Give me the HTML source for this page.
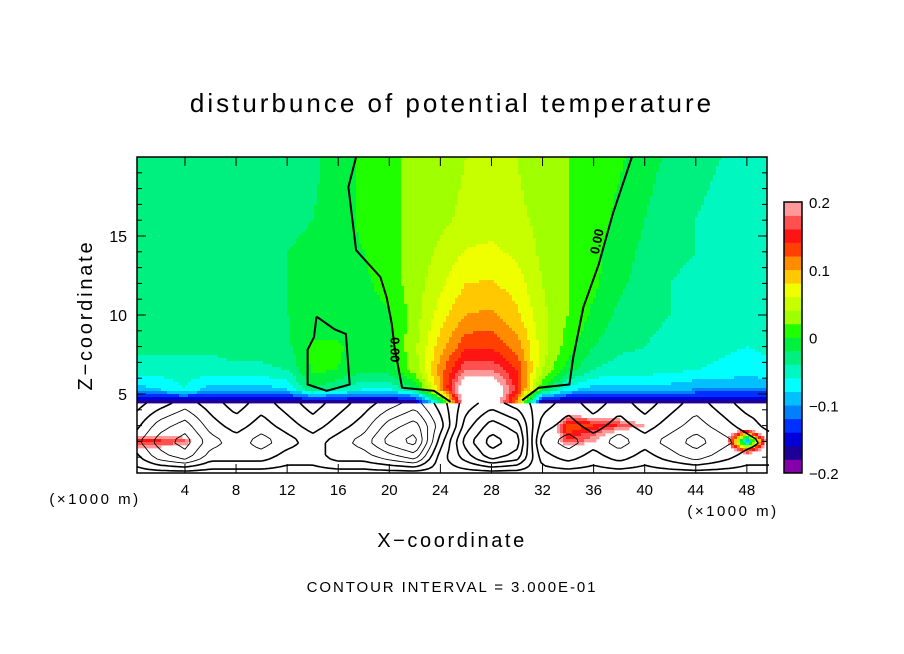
<!DOCTYPE html>
<html><head><meta charset="utf-8"><style>
body{margin:0;background:#fff;width:904px;height:654px;overflow:hidden;font-family:"Liberation Sans","DejaVu Sans",sans-serif}
svg{position:absolute;left:0;top:0}
</style></head><body>
<svg id="chart" width="904" height="654">
<text x="452" y="112" text-anchor="middle" font-size="26" letter-spacing="3">disturbunce of potential temperature</text>
<g id="field"></g>
<g id="contours"></g>
<rect x="137" y="157" width="630" height="316" fill="none" stroke="#000" stroke-width="1.5"/>
<g id="axes"></g>
<g id="cbar"></g>
<text x="95" y="504" text-anchor="middle" font-size="15" letter-spacing="2.5">(×1000 m)</text>
<text x="733" y="516" text-anchor="middle" font-size="15" letter-spacing="2.5">(×1000 m)</text>
<text x="452" y="547" text-anchor="middle" font-size="20" letter-spacing="2.6">X−coordinate</text>
<text transform="translate(92,315) rotate(-90)" text-anchor="middle" font-size="20" letter-spacing="2.8">Z−coordinate</text>
<text x="452" y="592" text-anchor="middle" font-size="15" letter-spacing="1.9">CONTOUR INTERVAL = 3.000E-01</text>
</svg>
<script>
const xCols=[0,2,4,6,8,10,12,14,16,18,20,22,24,26,28,30,32,34,36,38,40,42,44,46,48,50];
const zRows=[4.4,5.3,6.5,8,10,12,14,16,20];
const r0=[-.19,-.19,-.19,-.19,-.19,-.19,-.19,-.19,-.19,-.19,-.19,-.19,-.05,.25,.25,.1,-.19,-.19,-.19,-.19,-.19,-.19,-.19,-.19,-.19,-.19];
const r1=[-.09,-.08,-.06,-.09,-.09,-.09,-.08,-.02,-.04,-.06,-.06,-.02,.1,.25,.25,.15,0,-.07,-.09,-.09,-.09,-.09,-.1,-.1,-.1,-.1];
const r2=[-.05,-.05,-.05,-.05,-.045,-.045,-.04,.005,0,-.015,-.01,.03,.11,.18,.18,.14,.04,-.01,-.04,-.05,-.05,-.055,-.06,-.065,-.07,-.065];
const r3=[-.035,-.035,-.035,-.035,-.03,-.03,-.025,.005,.003,-.01,-.003,.035,.09,.135,.135,.11,.05,.01,-.02,-.035,-.04,-.045,-.05,-.055,-.06,-.055];
const r4=[-.03,-.03,-.03,-.03,-.03,-.025,-.02,-.015,-.015,-.01,-.002,.03,.07,.1,.105,.085,.045,.02,-.005,-.025,-.035,-.04,-.045,-.05,-.05,-.05];
const r5=[-.03,-.03,-.03,-.03,-.03,-.025,-.02,-.015,-.01,-.005,.01,.03,.055,.08,.082,.07,.04,.02,.005,-.015,-.03,-.04,-.045,-.045,-.05,-.05];
const r6=[-.03,-.03,-.03,-.03,-.03,-.025,-.02,-.015,-.01,0,.015,.025,.045,.062,.065,.055,.035,.02,.005,-.01,-.025,-.035,-.04,-.045,-.045,-.045];
const r7=[-.03,-.03,-.03,-.03,-.03,-.03,-.025,-.02,-.01,.005,.015,.025,.035,.045,.05,.045,.035,.02,.01,-.005,-.02,-.035,-.04,-.045,-.045,-.045];
const r8=[-.03,-.03,-.03,-.03,-.03,-.03,-.03,-.025,-.01,.005,.015,.025,.03,.04,.045,.04,.025,.02,.01,.003,-.01,-.025,-.035,-.04,-.045,-.045];
const upperGrid=[r0,r1,r2,r3,r4,r5,r6,r7,r8];
const zLow=[0,1,2,3,4.4];
const l0=[.3,.3,.3,.3,.3,.3,.3,.3,.3,.3,.3,.3,.3,.3,.3,.3,.3,.3,.3,.3,.3,.3,.3,.3,.3,.3];
const l1=[.3,.3,.3,.3,.3,.3,.3,.3,.3,.3,.3,.3,.3,.3,.3,.3,.3,.3,.3,.3,.3,.3,.3,.3,.3,.3];
const l2=[.14,.15,.17,.3,.3,.3,.3,.3,.3,.3,.3,.3,.3,.3,.3,.3,.3,.16,.2,.3,.3,.3,.3,.3,-.12,.3];
const l3=[.3,.3,.3,.3,.3,.3,.3,.3,.3,.3,.3,.3,.3,.3,.3,.3,.3,.12,.14,.16,.2,.3,.3,.3,.3,.3];
const l4=[.3,.3,.3,.3,.3,.3,.3,.3,.3,.3,.3,.3,.3,.3,.3,.3,.3,.3,.3,.3,.3,.3,.3,.3,.3,.3];
const lowerGrid=[l0,l1,l2,l3,l4];
const p0=[0,0,0,0,0,0,0,0,0,0,0,0,0,0,0,0,0,0,0,0,0,0,0,0,0,0];
const p1=[.3,.9,1.2,.6,.6,.6,.3,.3,.6,.6,.9,1.2,0,-.6,-1.2,-.9,.3,.6,.3,.6,.3,.6,.9,.6,.3,.3];
const p2=[.6,1.2,1.5,.9,.6,.9,.6,.3,.6,.9,1.5,1.8,.3,-.9,-1.5,-1.2,.6,.9,.6,.9,.6,.9,1.2,.9,.6,.3];
const p3=[.3,.9,1.2,.6,.3,.6,.3,0,.3,.6,1.2,1.5,.6,-.6,-1.2,-.9,.3,.6,.3,.6,.3,.6,.9,.6,.3,0];
const p4=[0,.3,.6,.3,0,.3,0,-.3,0,.3,.6,.9,.3,-.3,-.6,-.3,0,.3,0,.3,0,.3,.6,.3,0,0];
const psiGrid=[p0,p1,p2,p3,p4];
const psiLevels=[-1.35,-1.05,-0.75,-0.45,-0.15,0.15,0.45,0.75,1.05,1.35,1.65];
const cbTicks=[-0.2,-0.1,0,0.1,0.2];
const cbLabels=["−0.2","−0.1","0","0.1","0.2"];
const xTicks=[4,8,12,16,20,24,28,32,36,40,44,48];
const zTicks=[5,10,15];
const zeroLeftZ=[20,18.1,14.1,12.4,11.1,9.4,8,5.4,5.2,4.5];
const zeroLeftX=[17.4,16.8,17.4,19.3,19.8,20.2,20.4,21,23.5,24.8];
const zeroRightZ=[20,16.4,13.2,10.5,7.3,5.6,5.4,4.6];
const zeroRightX=[39,37.5,36.4,35.2,34.4,34.1,31.7,30.4];
const blobZ=[9.9,9.1,8.8,5.6,5.2,5.6,7.8,8.6,9.9];
const blobX=[14.3,15.7,16.6,16.9,15.1,13.6,13.6,14.1,14.3];
const palette=["#8400a8","#1e0096","#0000d8","#0030ff","#0080ff","#00c0ff","#00ffff","#00f8c0","#00f080","#00f040","#20ff00","#a0ff00","#c8ff00","#f0ff00","#ffc800","#ff8c00","#ff4000","#ff1414","#ff5050","#ff9898"];
const X0=137,X1=767,Y0=473,Y1=157;
const sx=v=>133.9+v*12.77;
const sz=z=>473-z*15.8;
const ns="http://www.w3.org/2000/svg";
function mk(t,a,p){const e=document.createElementNS(ns,t);for(const k in a)e.setAttribute(k,a[k]);p.appendChild(e);return e;}
function color(v){if(v>=0.2)return "#ffffff";let i=Math.floor((v+0.2)/0.02);if(i<0)i=0;if(i>19)i=19;return palette[i];}
function sample(grid,zs,x,z){
  let ci=0;while(ci<xCols.length-2&&x>xCols[ci+1])ci++;
  let ri=0;while(ri<zs.length-2&&z>zs[ri+1])ri++;
  let tx=(x-xCols[ci])/(xCols[ci+1]-xCols[ci]);tx=Math.max(0,Math.min(1,tx));
  let tz=(z-zs[ri])/(zs[ri+1]-zs[ri]);tz=Math.max(0,Math.min(1,tz));
  const a=grid[ri][ci],b=grid[ri][ci+1],c=grid[ri+1][ci],d=grid[ri+1][ci+1];
  return (a*(1-tx)+b*tx)*(1-tz)+(c*(1-tx)+d*tx)*tz;
}
const field=document.getElementById('field');
const step=3;
for(let py=Y1;py<Y0;py+=step){
  const z=(473-(py+step/2))/15.8;
  for(let px=X0;px<X1;px+=step){
    const x=(px+step/2-133.9)/12.77;
    const v=z>=4.4?sample(upperGrid,zRows,x,z):sample(lowerGrid,zLow,x,z);
    const c=color(v);
    if(c==="#ffffff")continue;
    const r=mk('rect',{x:px,y:py,width:step+0.4,height:step+0.4,fill:c},field);
    
    
  }
}
const cont=document.getElementById('contours');
function poly(xs,zs,name){
  const d=xs.map((x,i)=>(i?'L':'M')+sx(x).toFixed(1)+' '+sz(zs[i]).toFixed(1)).join(' ');
  const p=mk('path',{d:d,fill:'none',stroke:'#000','stroke-width':2},cont);
  
  
}
poly(zeroLeftX,zeroLeftZ,'zero-contour-left');
poly(zeroRightX,zeroRightZ,'zero-contour-right');
poly(blobX,blobZ,'zero-contour-blob');
const lab1=mk('text',{transform:`translate(${sx(20.1)},${sz(7.8)}) rotate(90)`,'font-size':13,'text-anchor':'middle','font-weight':'bold'},cont);lab1.textContent='0.00';


const lab2=mk('text',{transform:`translate(${sx(36.6)},${sz(14.6)}) rotate(-78)`,'font-size':13,'text-anchor':'middle','font-weight':'bold'},cont);lab2.textContent='0.00';


(function(){
  const st=4;const d={};psiLevels.forEach(l=>d[l]='');
  const val=(px,py)=>sample(psiGrid,zLow,(px-133.9)/12.77,(473-py)/15.8);
  for(let py=403;py<473;py+=st){for(let px=X0;px<X1;px+=st){
    const a=val(px,py),b=val(px+st,py),c=val(px+st,py+st),e=val(px,py+st);
    psiLevels.forEach(l=>{
      const pts=[];
      const ed=(v1,v2,x1,y1,x2,y2)=>{if((v1-l)*(v2-l)<0){const t=(l-v1)/(v2-v1);pts.push([x1+(x2-x1)*t,y1+(y2-y1)*t]);}};
      ed(a,b,px,py,px+st,py);ed(b,c,px+st,py,px+st,py+st);ed(c,e,px+st,py+st,px,py+st);ed(e,a,px,py+st,px,py);
      for(let i=0;i+1<pts.length;i+=2)d[l]+=`M${pts[i][0].toFixed(1)} ${pts[i][1].toFixed(1)}L${pts[i+1][0].toFixed(1)} ${pts[i+1][1].toFixed(1)}`;
    });
  }}
  psiLevels.forEach(l=>{if(!d[l])return;
    const p=mk('path',{d:d[l],fill:'none',stroke:'#000','stroke-width':l<0?1.6:(Math.abs(l)<0.5?1.6:0.9)},cont);
    
    });
})();
const ax=document.getElementById('axes');
xTicks.forEach(t=>{mk('line',{x1:sx(t),x2:sx(t),y1:473,y2:464,stroke:'#000'},ax);
mk('line',{x1:sx(t),x2:sx(t),y1:157,y2:166,stroke:'#000'},ax);
const tx=mk('text',{x:sx(t),y:495,'text-anchor':'middle','font-size':15},ax);tx.textContent=t;

});
for(let z=1;z<20;z++){const L=(z%5===0)?9:5;
mk('line',{x1:137,x2:137+L,y1:sz(z),y2:sz(z),stroke:'#000'},ax);
mk('line',{x1:767,x2:767-L,y1:sz(z),y2:sz(z),stroke:'#000'},ax);}
zTicks.forEach(t=>{
const tx=mk('text',{x:127,y:sz(t)+6,'text-anchor':'end','font-size':16},ax);tx.textContent=t;

});
const cb=document.getElementById('cbar');
const cbY=v=>473-(v+0.2)/0.4*271;
palette.forEach((c,i)=>{const v=-0.2+i*0.02;const r=mk('rect',{x:784,y:cbY(v+0.02),width:18,height:271/20+0.3,fill:c},cb);

});
mk('rect',{x:784,y:202,width:18,height:271,fill:'none',stroke:'#000','stroke-width':1.5},cb);
cbTicks.forEach((t,i)=>{const tx=mk('text',{x:809,y:cbY(t)+6,'font-size':15},cb);tx.textContent=cbLabels[i];

});
</script>
</body></html>
